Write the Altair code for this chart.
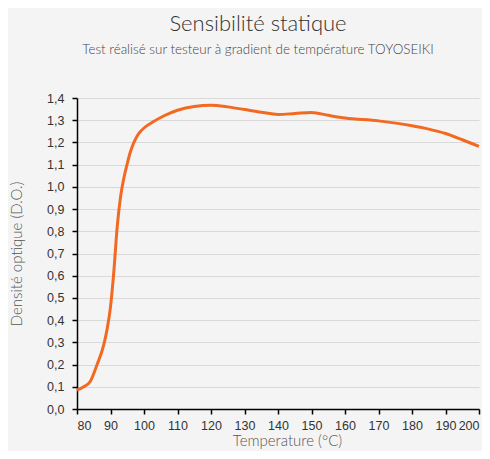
import altair as alt
import pandas as pd

temps = [80, 82, 84, 86, 88, 89, 90, 91, 92, 93, 94, 95, 96, 97, 98, 99, 100,
         103, 106, 110, 115, 120, 125, 130, 135, 140, 145, 150, 155, 160, 170,
         180, 185, 190, 195, 200]
density = [0.085, 0.10, 0.125, 0.20, 0.29, 0.36, 0.46, 0.62, 0.82, 0.955, 1.04,
           1.105, 1.16, 1.20, 1.23, 1.25, 1.265, 1.295, 1.32, 1.345, 1.362,
           1.367, 1.36, 1.348, 1.336, 1.326, 1.33, 1.335, 1.322, 1.31, 1.297,
           1.275, 1.26, 1.24, 1.212, 1.182]

df = pd.DataFrame({"t": temps, "d": density})

line = alt.Chart(df).mark_line(
    color="#F26A21", strokeWidth=3, interpolate="monotone"
).encode(
    x=alt.X("t:Q",
            scale=alt.Scale(domain=[80, 200], nice=False, zero=False),
            axis=alt.Axis(values=list(range(80, 201, 10)), title="Temperature (°C)",
                          grid=False, domainColor="#000000", domainWidth=1.5,
                          tickColor="#000000", tickWidth=1.5, tickSize=5,
                          labelPadding=5, labelFontSize=12.5, labelColor="#333333",
                          labelFont="Liberation Sans",
                          titleFont="Lato", titleFontWeight=300, titleFontSize=15,
                          titleColor="#555555", titlePadding=2, titleX=210)),
    y=alt.Y("d:Q",
            scale=alt.Scale(domain=[0, 1.4], nice=False),
            axis=alt.Axis(values=[round(i * 0.1, 1) for i in range(15)],
                          labelExpr="replace(format(datum.value, '.1f'), '.', ',')",
                          title="Densité optique (D.O.)",
                          grid=True, gridColor="#d9d9d9", gridWidth=1.2,
                          domainColor="#000000", domainWidth=1.5,
                          tickColor="#000000", tickWidth=1.5, tickSize=5,
                          labelPadding=8, labelFontSize=12.5, labelColor="#333333",
                          labelFont="Liberation Sans",
                          titleFont="Lato", titleFontWeight=300, titleFontSize=15,
                          titleColor="#555555", titlePadding=22)),
)

chart = line.properties(
    width=402,
    height=311,
    background="#f4f4f4",
    autosize=alt.AutoSizeParams(type="none"),
    padding={"left": 69, "top": 90, "right": 3, "bottom": 42},
    title=alt.TitleParams(
        text="Sensibilité statique",
        subtitle="Test réalisé sur testeur à gradient de température TOYOSEIKI",
        anchor="middle", dx=-20, offset=35,
        font="Lato", fontWeight=300, fontSize=22, color="#333333",
        subtitleFont="Lato", subtitleFontWeight=300, subtitleFontSize=13.4,
        subtitleColor="#444444", subtitlePadding=7,
    ),
).configure_view(stroke=None)

chart.save("out.html", embed_options={"renderer": "svg", "actions": False})
